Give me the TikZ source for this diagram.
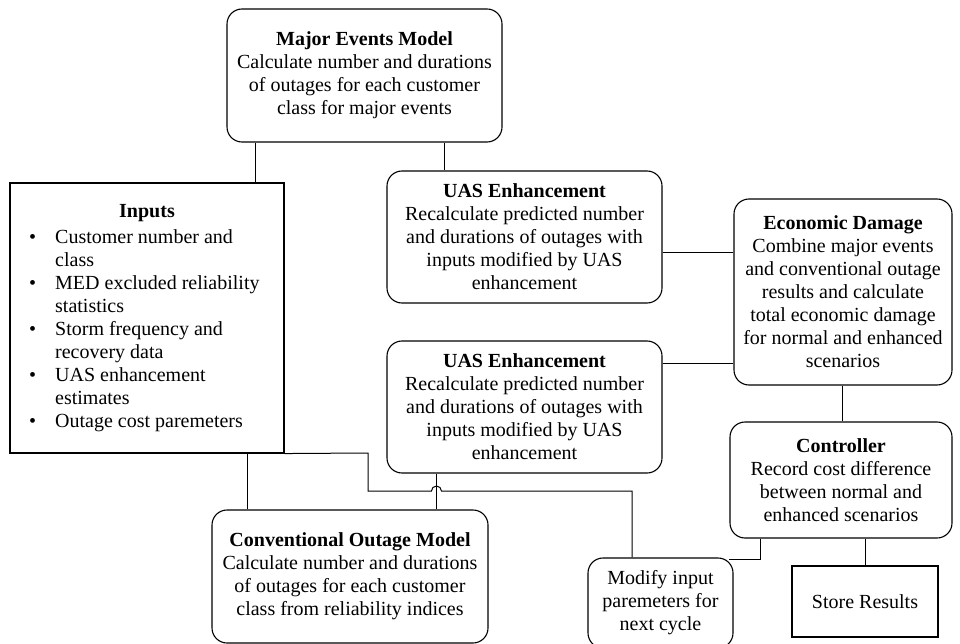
\documentclass[tikz,border=0pt]{standalone}
\usepackage{fontspec}
\setmainfont{Liberation Serif}
\begin{document}
\begin{tikzpicture}[x=1pt,y=-1pt,
  every node/.style={font=\fontsize{20}{23}\selectfont},
  rbox/.style={draw, rounded corners=15pt, line width=1.1pt, align=center, inner sep=0pt},
  sbox/.style={draw, line width=1.1pt, align=center, inner sep=0pt},
  conn/.style={line width=1pt}]
\useasboundingbox (0,0) rectangle (960,644);

\node[rbox, minimum width=275pt, minimum height=133pt] (mem) at (364.5,75.5)
  {\textbf{Major Events Model}\\Calculate number and durations\\of outages for each customer\\class for major events};

\node[sbox, minimum width=274pt, minimum height=270pt] (inputs) at (147,318) {};
\node[font=\fontsize{20}{23}\bfseries] (intitle) at (147,213) {Inputs};
\node[align=left, anchor=west, inner sep=0pt] (inlist) at (29,331)
  {\makebox[26pt][l]{•}Customer number and\\
   \hspace*{26pt}class\\
   \makebox[26pt][l]{•}MED excluded reliability\\
   \hspace*{26pt}statistics\\
   \makebox[26pt][l]{•}Storm frequency and\\
   \hspace*{26pt}recovery data\\
   \makebox[26pt][l]{•}UAS enhancement\\
   \hspace*{26pt}estimates\\
   \makebox[26pt][l]{•}Outage cost paremeters};

\node[rbox, minimum width=275pt, minimum height=132pt] (uas1) at (524.5,237)
  {\textbf{UAS Enhancement}\\Recalculate predicted number\\and durations of outages with\\inputs modified by UAS\\enhancement};
\node[rbox, minimum width=275pt, minimum height=132pt] (uas2) at (524.5,407)
  {\textbf{UAS Enhancement}\\Recalculate predicted number\\and durations of outages with\\inputs modified by UAS\\enhancement};

\node[rbox, minimum width=218pt, minimum height=186pt] (econ) at (843,292)
  {\textbf{Economic Damage}\\Combine major events\\and conventional outage\\results and calculate\\total economic damage\\for normal and enhanced\\scenarios};

\node[rbox, minimum width=222pt, minimum height=116pt] (ctrl) at (841,480)
  {\textbf{Controller}\\Record cost difference\\between normal and\\enhanced scenarios};

\node[rbox, minimum width=276pt, minimum height=133pt] (conv) at (350,576.5)
  {\textbf{Conventional Outage Model}\\Calculate number and durations\\of outages for each customer\\class from reliability indices};

\node[rbox, minimum width=145pt, minimum height=90pt] (modify) at (660.5,603)
  {Modify input\\paremeters for\\next cycle};

\node[sbox, minimum width=146pt, minimum height=71pt] (store) at (865,601.5)
  {Store Results};

% connectors
\draw[conn] ([xshift=29pt]mem.south west) -- ([xshift=29pt]mem.south west |- inputs.north);
\draw[conn] ([xshift=-58pt]mem.south east) -- ([xshift=-58pt]mem.south east |- uas1.north);
\draw[conn] ([yshift=-15pt]uas1.east) -- ([yshift=-15pt]uas1.east -| econ.west);
\draw[conn] ([yshift=44pt]uas2.east) -- ([yshift=44pt]uas2.east -| econ.west);
\draw[conn] ([xshift=-1pt]econ.south) -- ([xshift=-1pt]econ.south |- ctrl.north);
\draw[conn] ([xshift=36pt]conv.north west |- inputs.south) -- ([xshift=36pt]conv.north west);
\draw[conn] ([xshift=50pt]uas2.south west) -- ([xshift=50pt]uas2.south west |- conv.north);
\coordinate (hop) at ([xshift=50pt]uas2.south west |- 0,491);
\draw[conn] (inputs.south east) -- (368,453) -- (368,491) -- ([xshift=-5pt]hop)
  arc[start angle=180, end angle=0, radius=5pt] -- ([xshift=-28.5pt]modify.north |- hop)
  -- ([xshift=-28.5pt]modify.north);
\draw[conn] ([xshift=31pt]ctrl.south west) |- ([xshift=-5pt,yshift=-2pt]modify.north east);
\draw[conn] (store.north |- ctrl.south) -- (store.north);
\end{tikzpicture}
\end{document}
